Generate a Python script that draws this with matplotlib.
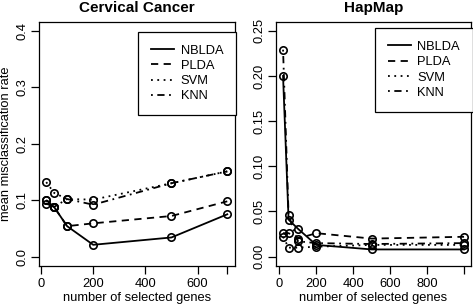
import numpy as np
import matplotlib
matplotlib.use("Agg")
import matplotlib.pyplot as plt

plt.rcParams['font.family'] = ['Liberation Sans', 'DejaVu Sans']

methods = ['NBLDA', 'PLDA', 'SVM', 'KNN']

# Cervical cancer
genes_cc = [20, 50, 100, 200, 500, 714]
nblda_cc = [0.094, 0.088, 0.054, 0.021, 0.034, 0.075]
plda_cc = [0.100, 0.088, 0.054, 0.059, 0.072, 0.098]
svm_cc = [0.132, 0.113, 0.102, 0.101, 0.130, 0.151]
knn_cc = [0.100, 0.088, 0.102, 0.092, 0.130, 0.151]

# HapMap
genes_hm = [20, 50, 100, 200, 500, 1000]
nblda_hm = [0.200, 0.041, 0.031, 0.013, 0.008, 0.008]
plda_hm = [0.026, 0.026, 0.020, 0.026, 0.020, 0.022]
svm_hm = [0.022, 0.010, 0.010, 0.011, 0.013, 0.013]
knn_hm = [0.229, 0.046, 0.017, 0.015, 0.014, 0.015]

styles = ['-', (0, (4, 3)), (0, (1, 2.5)), (0, (1, 2.5, 4, 2.5))]
fs = 9.3

fig = plt.figure(figsize=(4.73, 3.06), dpi=100)
ax1 = fig.add_axes([39 / 473, 1 - 265.7 / 306, 195.5 / 473, 244 / 306])
ax2 = fig.add_axes([275.8 / 473, 1 - 265.7 / 306, 195.5 / 473, 244 / 306])


def draw(ax, x, series, title, ylim, yticks, ylabels, xticks, xlabels, leg_anchor):
    for vals, ls, name in zip(series, styles, methods):
        ax.plot(x, vals, color='black', linestyle=ls, lw=1.3,
                marker='o', markersize=5.3, markerfacecolor='none',
                markeredgewidth=1.2, label=name)
    pad = (x[-1] - x[0]) * 0.04
    ax.set_xlim(x[0] - pad, x[-1] + pad)
    ypad = (ylim[1] - ylim[0]) * 0.04
    ax.set_ylim(ylim[0] - ypad, ylim[1] + ypad)
    ax.set_yticks(yticks)
    ax.set_yticklabels(ylabels, rotation=90, va='center')
    ax.set_xticks(xticks)
    ax.set_xticklabels(xlabels)
    ax.tick_params(axis='both', length=6, width=0.9, labelsize=fs, colors='black')
    ax.tick_params(axis='y', pad=1.5)
    ax.tick_params(axis='x', pad=3)
    for s in ax.spines.values():
        s.set_linewidth(0.9)
    ax.set_title(title, fontsize=11, fontweight='bold', pad=7)
    ax.set_xlabel('number of selected genes', fontsize=fs, labelpad=1)
    leg = ax.legend(loc='upper right', bbox_to_anchor=leg_anchor, fontsize=fs,
                    frameon=True, fancybox=False, edgecolor='black',
                    framealpha=1, handlelength=1.8, labelspacing=0.25,
                    borderpad=1.0, handletextpad=0.5, borderaxespad=0)
    leg.get_frame().set_linewidth(0.9)
    for h in leg.legend_handles:
        h.set_marker('')


draw(ax1, genes_cc, [nblda_cc, plda_cc, svm_cc, knn_cc], 'Cervical Cancer',
     (0, 0.4), [0, 0.1, 0.2, 0.3, 0.4], ['0.0', '0.1', '0.2', '0.3', '0.4'],
     [0, 200, 400, 600, 714], ['0', '200', '400', '600', ''], (1.008, 0.959))
draw(ax2, genes_hm, [nblda_hm, plda_hm, svm_hm, knn_hm], 'HapMap',
     (0, 0.25), [0, 0.05, 0.10, 0.15, 0.20, 0.25],
     ['0.00', '0.05', '0.10', '0.15', '0.20', '0.25'],
     [0, 200, 400, 600, 800, 1000], ['0', '200', '400', '600', '800', ''],
     (1.0087, 0.974))
ax1.set_ylabel('mean misclassification rate', fontsize=fs, labelpad=3)

fig.savefig('out.png', dpi=100)
